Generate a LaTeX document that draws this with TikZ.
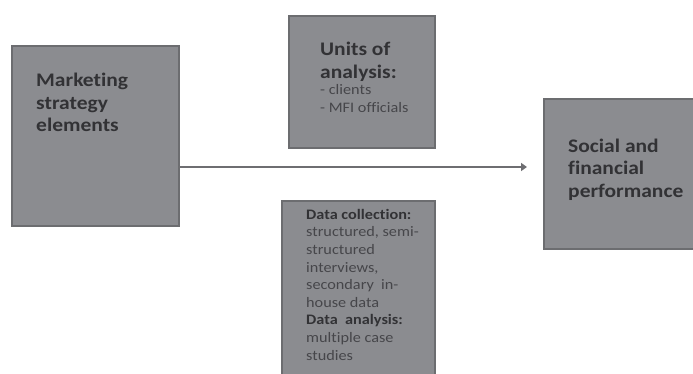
\documentclass[tikz,border=0pt]{standalone}
\usepackage{fontspec}
\setmainfont{Carlito}[FakeStretch=1.12, Ligatures=NoCommon]
\usetikzlibrary{arrows.meta}
\definecolor{boxfill}{RGB}{139,140,144}
\definecolor{boxline}{RGB}{108,109,112}
\definecolor{titletext}{RGB}{50,50,53}
\definecolor{plaintext}{RGB}{70,70,74}
\definecolor{arrowcol}{RGB}{110,110,113}
\tikzset{
  gbox/.style={draw=boxline, fill=boxfill, line width=1.6pt, inner sep=0pt},
  bigtitle/.style={anchor=north west, inner sep=0pt, align=left, text=titletext,
    font=\fontsize{19.2}{22.5}\selectfont\bfseries},
  smalltxt/.style={anchor=north west, inner sep=0pt, align=left, text=plaintext,
    font=\fontsize{14.5}{17.6}\selectfont},
  conn/.style={draw=arrowcol, line width=2.8pt, -{Triangle[length=6pt,width=8pt]}}
}
\begin{document}
\begin{tikzpicture}[x=1pt,y=-1pt]
\clip (0,0) rectangle (693,374);
\fill[white] (0,0) rectangle (693,374);
% boxes
\draw[gbox] (12,46) rectangle (179,226);
\coordinate (mk) at (179,167);
\draw[gbox] (289,16) rectangle (435,148);
\draw[gbox] (282,201) rectangle (435,390);
\draw[gbox] (544,99) rectangle (710,249);
% texts
\node[bigtitle] (mktext) at (36,73) {Marketing\\strategy\\elements};
\node[bigtitle] (untitle) at (320,42) {Units of\\analysis:};
\node[smalltxt] (unlist) at (320,84.5) {- clients\\- MFI officials};
\node[smalltxt] (datatext) at (306,209) {\textbf{\color{titletext}Data collection:}\\structured, semi-\\structured\\interviews,\\secondary\ \ in-\\house data\\\textbf{\color{titletext}Data\ \ analysis:}\\multiple case\\studies};
\node[bigtitle] (soctext) at (568,138.5) {Social and\\financial\\performance};
% connector
\coordinate (tip) at (527,167);
\draw[conn] (mk) -- (tip);
\end{tikzpicture}
\end{document}
